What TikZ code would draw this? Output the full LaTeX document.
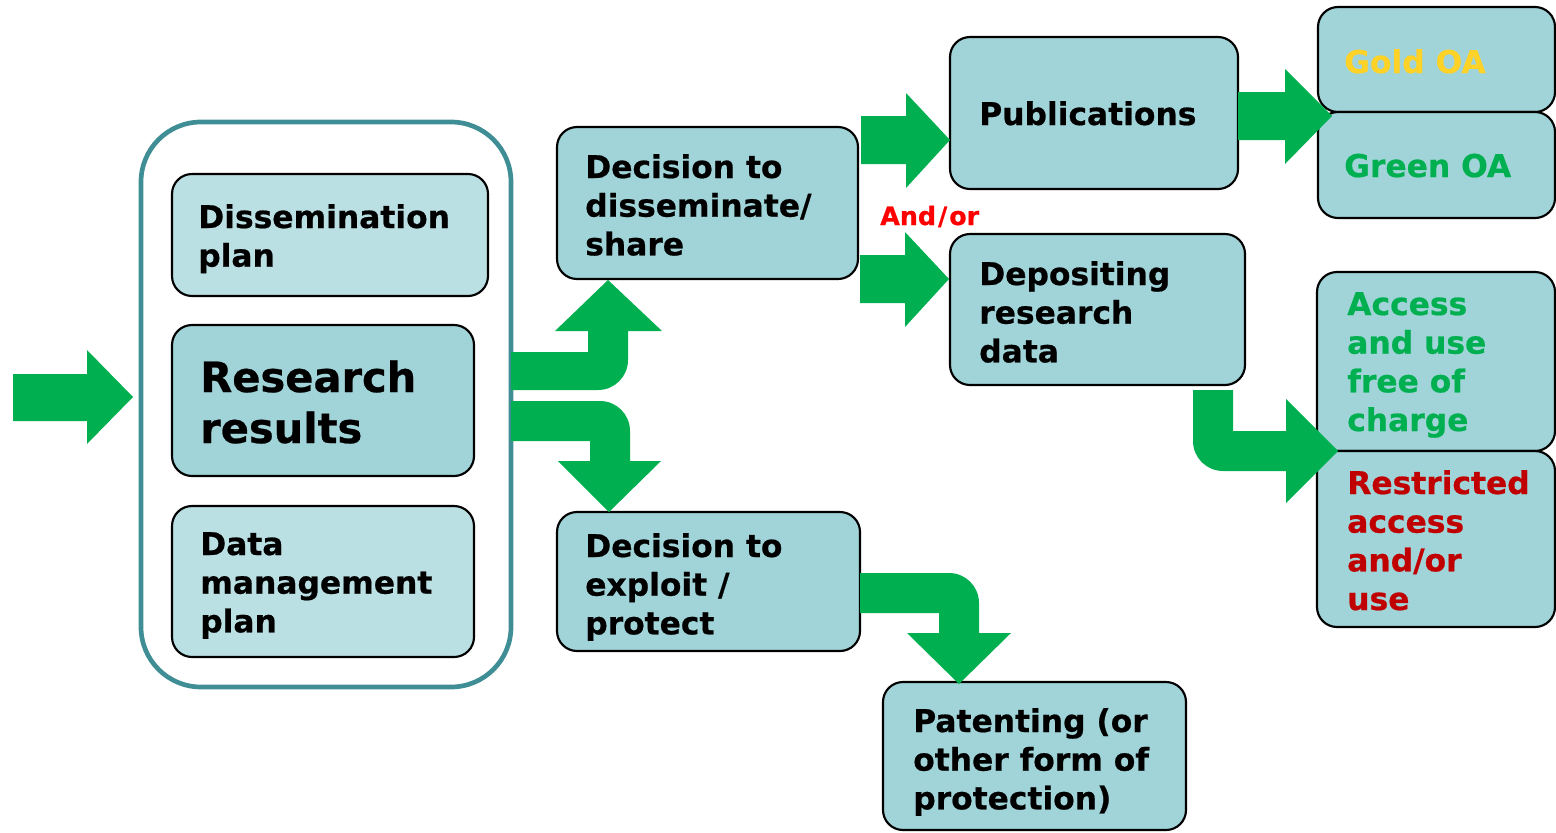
\documentclass[tikz,border=0pt]{standalone}
\usepackage{fontspec}
\setmainfont[BoldFeatures={FakeBold=0.6}]{DejaVu Sans}
\definecolor{boxblue}{RGB}{160,212,216}
\definecolor{boxlight}{RGB}{187,224,227}
\definecolor{framecol}{RGB}{63,142,149}
\definecolor{arrowgreen}{RGB}{0,176,80}
\definecolor{goldtext}{RGB}{255,210,40}
\definecolor{redtext}{RGB}{192,0,0}
\newcommand{\boxtext}[1]{\begin{tabular}[t]{@{}l@{}}#1\end{tabular}}
\tikzset{
  box/.style={draw=black, line width=1.6pt, fill=boxblue, rounded corners=15pt},
  lightbox/.style={box, fill=boxlight},
  blockarrow/.style={fill=arrowgreen},
  txt/.style={anchor=base west, inner sep=0pt, font=\bfseries\fontsize{23.5}{29}\selectfont},
}
\begin{document}
\begin{tikzpicture}[x=0.75pt,y=0.75pt,yscale=-1,xscale=1]
    \useasboundingbox (0,0) rectangle (1556,832);
    %Shape: Rounded Rect [frame]
    \draw [draw=framecol, line width=3.5pt, rounded corners=45pt] (141,122) rectangle (511,687);
    %Shape: Rounded Rect
    \draw [lightbox] (172,174) rectangle (488,296);
    \draw [box] (172,325) rectangle (474,476);
    \draw [lightbox] (172,506) rectangle (474,657);
    \draw [box] (557,127) rectangle (858,279);
    \draw [box] (557,512) rectangle (860,651);
    \draw [box] (950,37) rectangle (1238,189);
    \draw [box] (950,234) rectangle (1245,385);
    \draw [box] (1318,7) rectangle (1555,112);
    \draw [box] (1318,112) rectangle (1555,218);
    \draw [box] (1317,272) rectangle (1555,451);
    \draw [box] (1317,451) rectangle (1555,627);
    \draw [box] (883,682) rectangle (1186,830);
    %Shape: Right Arrow
    \fill [blockarrow] (13,374) -- (87,374) -- (87,350) -- (133,397) -- (87,444) -- (87,421) -- (13,421) -- cycle;
    %Shape: Bent Up Arrow
    \fill [blockarrow] (511,352) -- (588,352) -- (588,331) -- (555,331) -- (608,280) -- (662,331) -- (628,331) -- (628,360) .. controls (628,376.6) and (614.6,390) .. (598,390) -- (511,390) -- cycle;
    %Shape: Bent Down Arrow
    \fill [blockarrow] (511,441) -- (590,441) -- (590,461) -- (558,461) -- (609,512) -- (661,461) -- (630,461) -- (630,431) .. controls (630,414.4) and (616.6,401) .. (600,401) -- (511,401) -- cycle;
    %Shape: Right Arrow
    \fill [blockarrow] (861,116) -- (906,116) -- (906,93) -- (950,140) -- (906,188) -- (906,164) -- (861,164) -- cycle;
    \fill [blockarrow] (860,255) -- (905,255) -- (905,232) -- (949,279) -- (905,327) -- (905,303) -- (860,303) -- cycle;
    \fill [blockarrow] (1238,92) -- (1285,92) -- (1285,69) -- (1332,116) -- (1285,164) -- (1285,140) -- (1238,140) -- cycle;
    %Shape: Bent Right Arrow
    \fill [blockarrow] (1193,390) -- (1233,390) -- (1233,431) -- (1286,431) -- (1286,399) -- (1338,451) -- (1286,503) -- (1286,471) -- (1223,471) .. controls (1206.4,471) and (1193,457.6) .. (1193,441) -- cycle;
    \fill [blockarrow] (860,573) -- (949,573) .. controls (965.6,573) and (979,586.4) .. (979,603) -- (979,633) -- (1011,633) -- (959,684) -- (907,633) -- (939,633) -- (939,613) -- (860,613) -- cycle;
    % Text Node
    \node [txt] (dissplan) at (198,228) {\boxtext{Dissemination\\plan}};
    % Text Node
    \node [txt, font=\bfseries\fontsize{31.2}{38.25}\selectfont] (results) at (200,392) {\boxtext{Research\\results}};
    % Text Node
    \node [txt] (dmp) at (200,555) {\boxtext{Data\\management\\plan}};
    % Text Node
    \node [txt] (share) at (585,178) {\boxtext{Decision to\\disseminate/\\share}};
    % Text Node
    \node [txt] (exploit) at (585,557) {\boxtext{Decision to\\exploit /\\protect}};
    % Text Node
    \node [txt] (pubs) at (979,125) {Publications};
    % Text Node
    \node [txt, font=\bfseries\fontsize{19}{22}\selectfont, text=red] (andor) at (880,225) {And\kern1.5pt/\kern1.5pt or};
    % Text Node
    \node [txt] (depos) at (979,285) {\boxtext{Depositing\\research\\data}};
    % Text Node
    \node [txt, text=goldtext] (gold) at (1344,73) {Gold OA};
    % Text Node
    \node [txt, text=arrowgreen] (green) at (1344,177) {Green OA};
    % Text Node
    \node [txt, text=arrowgreen] (free) at (1347,315) {\boxtext{Access\\and use\\free of\\charge}};
    % Text Node
    \node [txt, text=redtext] (restr) at (1347,494) {\boxtext{Restricted\\access\\and/or\\use}};
    % Text Node
    \node [txt] (patent) at (913,732) {\boxtext{Patenting (or\\other form of\\protection)}};
\end{tikzpicture}
\end{document}
